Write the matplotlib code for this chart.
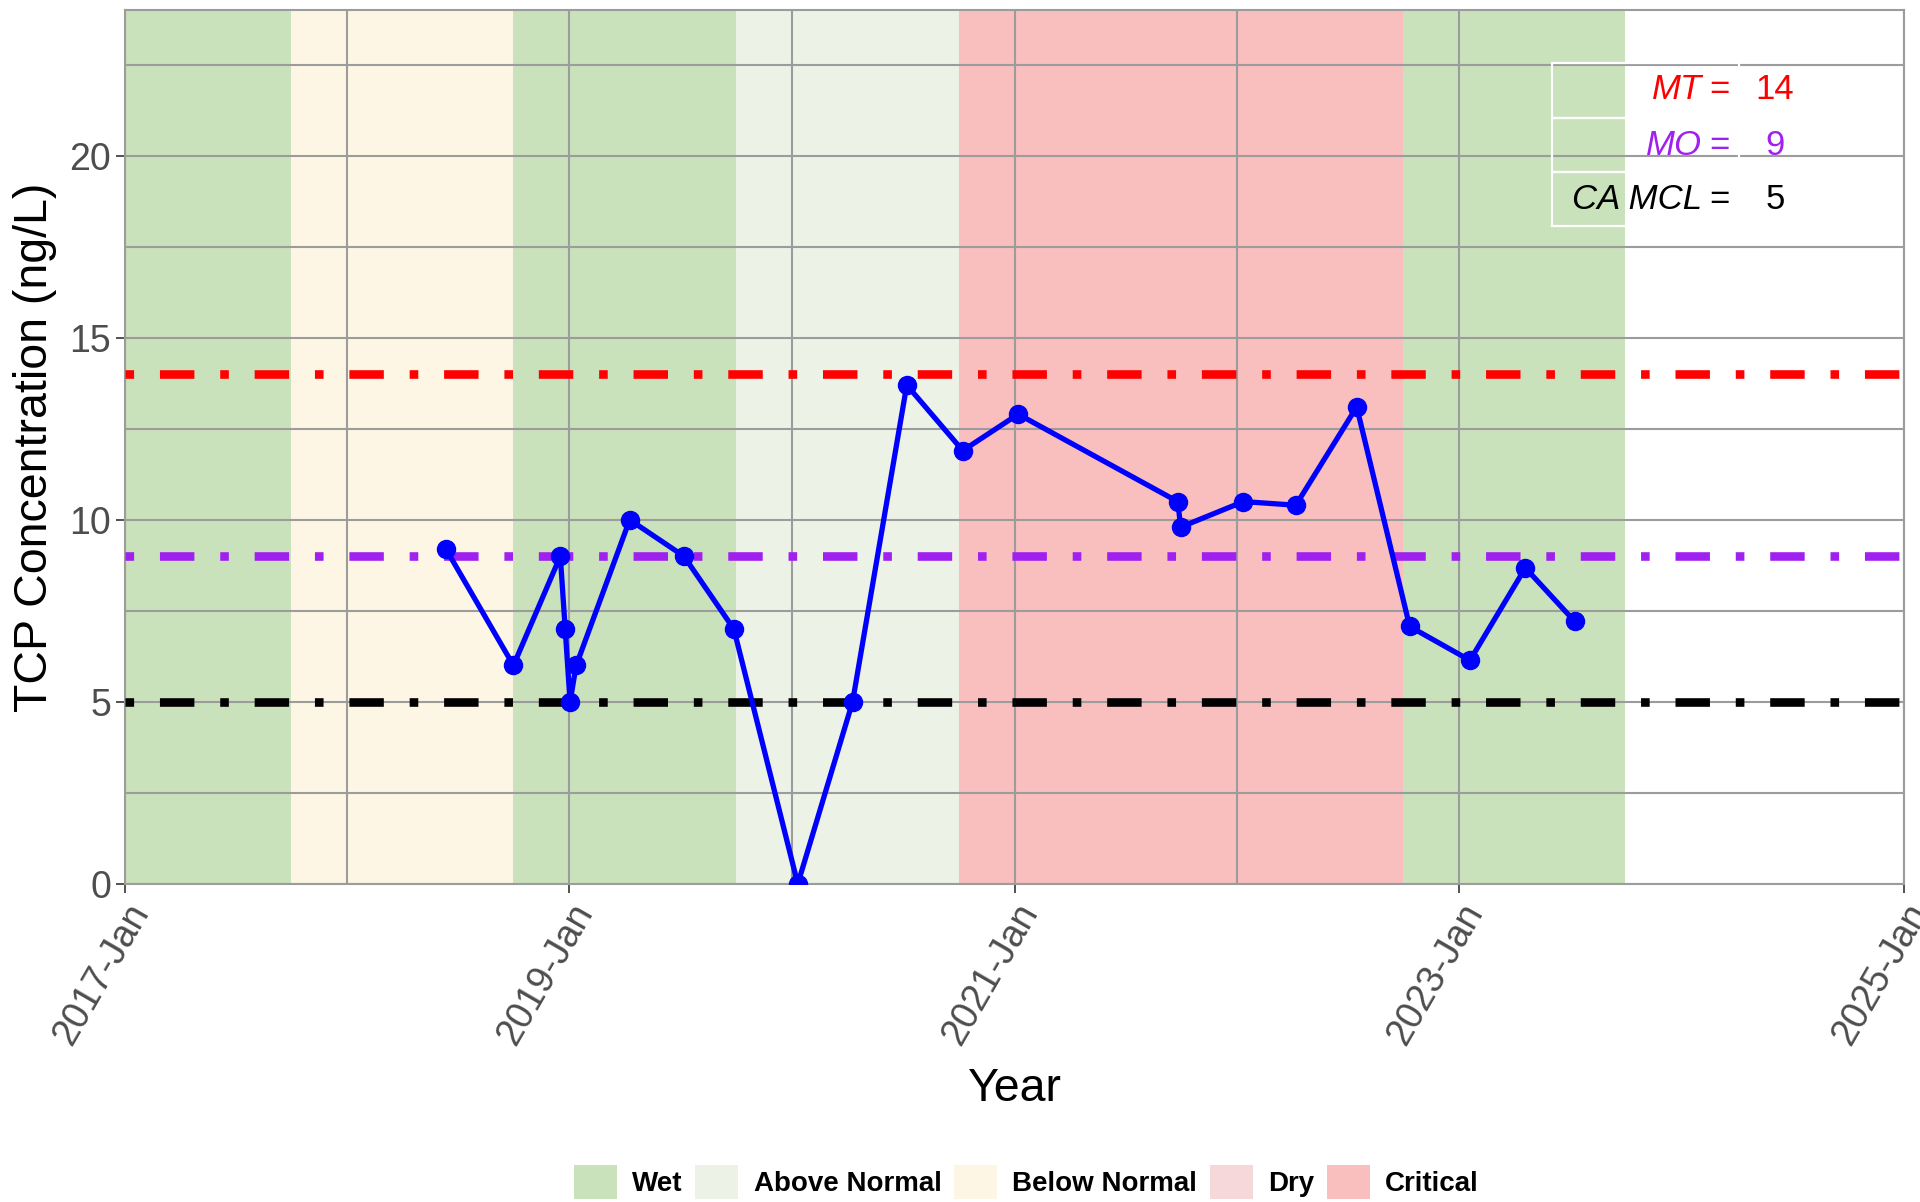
import numpy as np
import pandas as pd
import matplotlib.pyplot as plt
from matplotlib.patches import Patch, Rectangle

plt.rcParams['font.family'] = ['Liberation Sans', 'DejaVu Sans']

# TCP samples
sample_dates = ['2018-06-12', '2018-10-01', '2018-12-17', '2018-12-25', '2019-01-02', '2019-01-12',
                '2019-04-10', '2019-07-08', '2019-09-28', '2020-01-11', '2020-04-10', '2020-07-08',
                '2020-10-08', '2021-01-07', '2021-09-26', '2021-10-01', '2022-01-12', '2022-04-08',
                '2022-07-17', '2022-10-12', '2023-01-19', '2023-04-20', '2023-07-10']
tcp_values = [9.2, 6.0, 9.0, 7.0, 5.0, 6.0, 10.0, 9.0, 7.0, 0.0, 5.0, 13.7,
              11.9, 12.9, 10.5, 9.8, 10.5, 10.4, 13.1, 7.07, 6.14, 8.68, 7.21]

# thresholds
threshold_names = ['MT', 'MO', 'CA MCL']
threshold_values = [14, 9, 5]
threshold_colors = ['#FF0000', '#A020F0', '#000000']

# water year types (water year starts in October)
wy_starts = ['2016-10-01', '2017-10-01', '2018-10-01', '2019-10-01',
             '2020-10-01', '2021-10-01', '2022-10-01']
wy_types = ['Wet', 'Below Normal', 'Wet', 'Above Normal', 'Critical', 'Critical', 'Wet']

legend_types = ['Wet', 'Above Normal', 'Below Normal', 'Dry', 'Critical']
type_colors = {'Wet': '#C9E2BB', 'Above Normal': '#ECF2E6', 'Below Normal': '#FEF6E4',
               'Dry': '#F6D8DB', 'Critical': '#F9BEBE'}

major_ticks = ['2017-01-01', '2019-01-01', '2021-01-01', '2023-01-01', '2025-01-01']
minor_ticks = ['2018-01-01', '2020-01-01', '2022-01-01']

grid_col = '#9C9C9C'

fig = plt.figure(figsize=(19.2, 12.02), dpi=100)
ax = fig.add_axes([0.0651, 0.2646, 0.9266, 0.7271])

# water year bands
for start, wtype in zip(wy_starts, wy_types):
    s = pd.Timestamp(start)
    ax.axvspan(s, s + pd.DateOffset(years=1), color=type_colors[wtype], lw=0, zorder=0)

# threshold lines
for val, col in zip(threshold_values, threshold_colors):
    ax.axhline(val, color=col, lw=6.2, linestyle=(0, (1, 3, 4, 3)), zorder=3)

# data
ax.plot(pd.to_datetime(sample_dates), tcp_values, color='#0000FF', lw=3.8,
        marker='o', ms=13, zorder=4)

ax.set_xlim(pd.Timestamp('2017-01-01'), pd.Timestamp('2025-01-01'))
ax.set_ylim(0, 24)
ax.set_xticks(pd.to_datetime(major_ticks))
ax.set_xticklabels([pd.Timestamp(d).strftime('%Y-%b') for d in major_ticks])
ax.set_xticks(pd.to_datetime(minor_ticks), minor=True)
ax.set_yticks([0, 5, 10, 15, 20])
ax.set_yticks([2.5, 7.5, 12.5, 17.5, 22.5], minor=True)
ax.grid(which='both', color=grid_col, lw=1.5)

ax.tick_params(which='major', length=6.5, width=1.2, color='#333333',
               labelsize=27, labelcolor='#4D4D4D', pad=3.5)
ax.tick_params(which='minor', length=0)
plt.setp(ax.get_xticklabels(), rotation=60, ha='right', va='top', rotation_mode='anchor')
for sp in ax.spines.values():
    sp.set_color(grid_col)
    sp.set_linewidth(1.5)

ax.set_ylabel('TCP Concentration (ng/L)', fontsize=33.5)
ax.yaxis.set_label_coords(-0.038, 0.5)
ax.set_xlabel('Year', fontsize=33.5)
ax.xaxis.set_label_coords(0.5, -0.21)
ax.xaxis.label.set_va('top')

# threshold table in upper right
row_edges = [0.9394, 0.8764, 0.8146, 0.7529]
row_centers = [0.9085, 0.8455, 0.7826]
for i in range(3):
    ax.add_patch(Rectangle((0.8021, row_edges[i + 1]), 0.9073 - 0.8021,
                           row_edges[i] - row_edges[i + 1], transform=ax.transAxes,
                           fill=False, edgecolor='white', lw=1.6, zorder=5))
for name, val, col, yc in zip(threshold_names, threshold_values, threshold_colors, row_centers):
    ax.text(0.8865, yc, name, transform=ax.transAxes, color=col, fontsize=25,
            style='italic', ha='right', va='center', zorder=6)
    ax.text(0.9022, yc, '=', transform=ax.transAxes, color=col, fontsize=25,
            ha='right', va='center', zorder=6)
    ax.text(0.9275, yc, str(val), transform=ax.transAxes, color=col, fontsize=25,
            ha='center', va='center', zorder=6)

# water year type legend
handles = [Patch(facecolor=type_colors[t], edgecolor='none', label=t) for t in legend_types]
fig.legend(handles=handles, loc='center', bbox_to_anchor=(0.5346, 0.0166), ncol=5,
           frameon=False, handlelength=1.55, handleheight=1.55, handletextpad=0.55,
           columnspacing=0.45, borderpad=0,
           prop={'family': ['Liberation Sans Narrow', 'Liberation Sans'], 'weight': 'bold', 'size': 20})

fig.savefig('out.png', dpi=100)
